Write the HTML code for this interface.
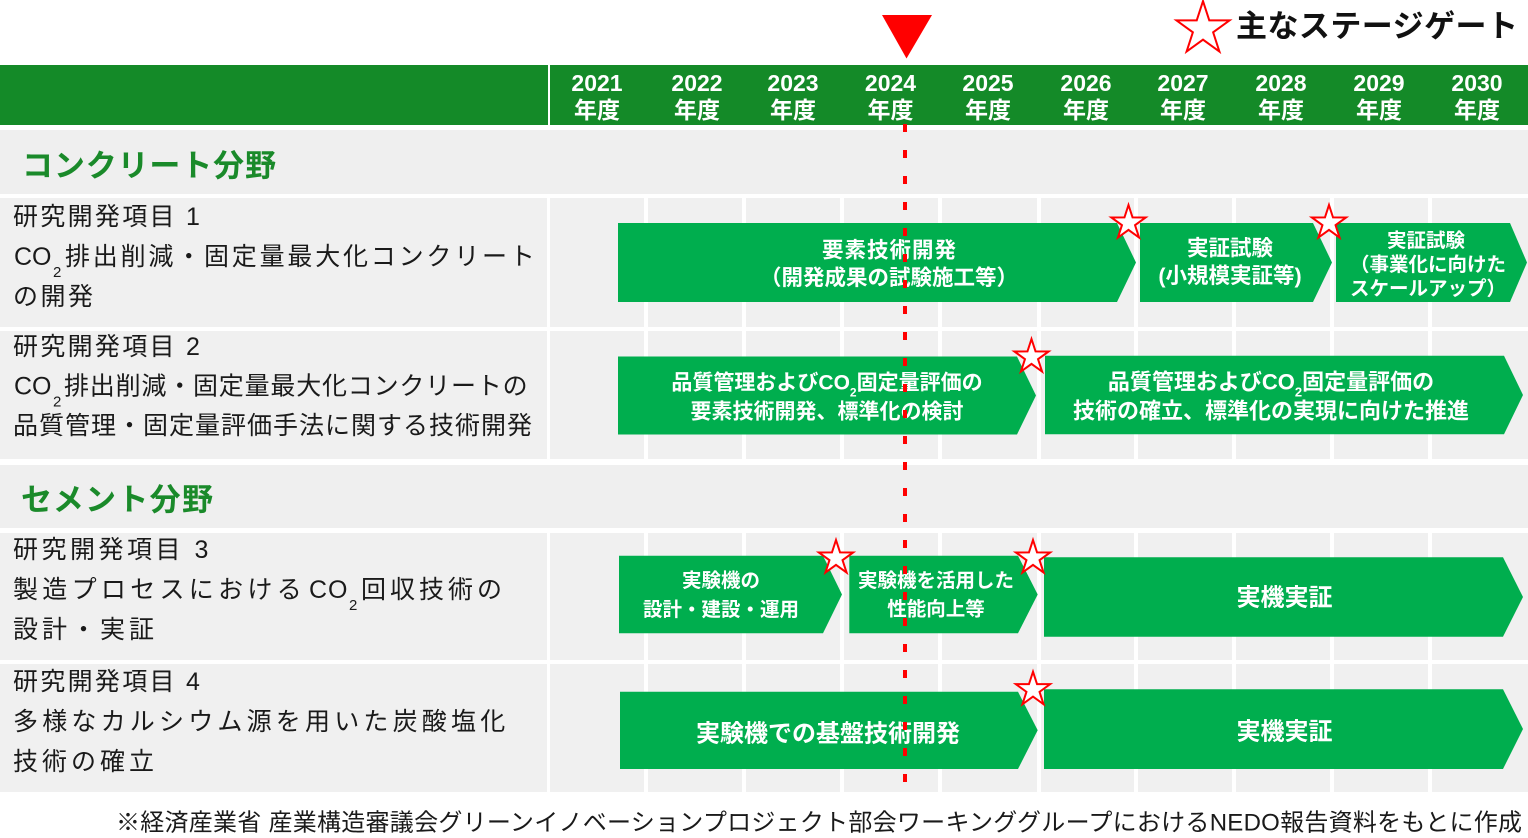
<!DOCTYPE html>
<html><head><meta charset="utf-8"><style>
html,body{margin:0;padding:0;background:#fff;}
body{width:1528px;height:838px;overflow:hidden;}
svg{display:block;}
</style></head><body>
<svg width="1528" height="838" viewBox="0 0 1528 838" xmlns="http://www.w3.org/2000/svg" font-family="'Liberation Sans','Noto Sans CJK JP',sans-serif">
<defs>
<polygon id="st" points="0,-18 4.04,-5.57 17.12,-5.56 6.54,2.13 10.58,14.56 0,6.88 -10.58,14.56 -6.54,2.13 -17.12,-5.56 -4.04,-5.57" fill="#fff" stroke="#ff0000" stroke-width="2" vector-effect="non-scaling-stroke" stroke-linejoin="miter"/>
</defs>
<rect width="1528" height="838" fill="#fff"/>
<!-- header -->
<rect x="0" y="65" width="548" height="60" fill="#148a28"/>
<rect x="550" y="65" width="978" height="60" fill="#148a28"/>
<!-- category rows -->
<rect x="0" y="130" width="1528" height="64" fill="#efefef"/>
<rect x="0" y="465" width="1528" height="63" fill="#efefef"/>
<!-- grid cells -->
<g fill="#f0f0f0">
<rect x="0" y="198" width="547" height="129"/><rect x="550" y="198" width="94" height="129"/><rect x="648" y="198" width="94" height="129"/><rect x="746" y="198" width="94" height="129"/><rect x="844" y="198" width="94" height="129"/><rect x="942" y="198" width="95" height="129"/><rect x="1041" y="198" width="93" height="129"/><rect x="1138" y="198" width="94" height="129"/><rect x="1236" y="198" width="94" height="129"/><rect x="1334" y="198" width="94" height="129"/><rect x="1432" y="198" width="96" height="129"/>
<rect x="0" y="331" width="547" height="128"/><rect x="550" y="331" width="94" height="128"/><rect x="648" y="331" width="94" height="128"/><rect x="746" y="331" width="94" height="128"/><rect x="844" y="331" width="94" height="128"/><rect x="942" y="331" width="95" height="128"/><rect x="1041" y="331" width="93" height="128"/><rect x="1138" y="331" width="94" height="128"/><rect x="1236" y="331" width="94" height="128"/><rect x="1334" y="331" width="94" height="128"/><rect x="1432" y="331" width="96" height="128"/>
<rect x="0" y="533" width="547" height="127"/><rect x="550" y="533" width="94" height="127"/><rect x="648" y="533" width="94" height="127"/><rect x="746" y="533" width="94" height="127"/><rect x="844" y="533" width="94" height="127"/><rect x="942" y="533" width="95" height="127"/><rect x="1041" y="533" width="93" height="127"/><rect x="1138" y="533" width="94" height="127"/><rect x="1236" y="533" width="94" height="127"/><rect x="1334" y="533" width="94" height="127"/><rect x="1432" y="533" width="96" height="127"/>
<rect x="0" y="664" width="547" height="128"/><rect x="550" y="664" width="94" height="128"/><rect x="648" y="664" width="94" height="128"/><rect x="746" y="664" width="94" height="128"/><rect x="844" y="664" width="94" height="128"/><rect x="942" y="664" width="95" height="128"/><rect x="1041" y="664" width="93" height="128"/><rect x="1138" y="664" width="94" height="128"/><rect x="1236" y="664" width="94" height="128"/><rect x="1334" y="664" width="94" height="128"/><rect x="1432" y="664" width="96" height="128"/>
</g>
<!-- legend -->
<polygon points="882,15 932,15 906.5,58.5" fill="#ff0000"/>
<use href="#st" transform="translate(1203,29) scale(1.55)"/>
<text x="1236" y="37" font-size="31" font-weight="bold" fill="#111" textLength="282">主なステージゲート</text>
<!-- years -->
<g font-size="23" font-weight="bold" fill="#fff" text-anchor="middle">
<text x="597" y="91">2021</text><text x="597" y="118">年度</text>
<text x="697" y="91">2022</text><text x="697" y="118">年度</text>
<text x="793" y="91">2023</text><text x="793" y="118">年度</text>
<text x="890.5" y="91">2024</text><text x="890.5" y="118">年度</text>
<text x="988" y="91">2025</text><text x="988" y="118">年度</text>
<text x="1086" y="91">2026</text><text x="1086" y="118">年度</text>
<text x="1183" y="91">2027</text><text x="1183" y="118">年度</text>
<text x="1281" y="91">2028</text><text x="1281" y="118">年度</text>
<text x="1379" y="91">2029</text><text x="1379" y="118">年度</text>
<text x="1477" y="91">2030</text><text x="1477" y="118">年度</text>
</g>
<!-- category labels -->
<text x="22" y="176.5" font-size="31" font-weight="bold" fill="#1a8a2a" textLength="254">コンクリート分野</text>
<text x="21" y="510.5" font-size="31" font-weight="bold" fill="#1a8a2a" textLength="192">セメント分野</text>
<!-- left labels -->
<g font-size="25" fill="#1a1a1a">
<text x="13" y="225" letter-spacing="2.3">研究開発項目 1</text>
<text y="265"><tspan x="14">CO</tspan><tspan x="53" font-size="15" dy="12">2</tspan><tspan x="65" dy="-12" letter-spacing="2.8">排出削減・固定量最大化コンクリート</tspan></text>
<text x="13" y="305" letter-spacing="2.5">の開発</text>
<text x="13" y="355" letter-spacing="2.3">研究開発項目 2</text>
<text y="394.5"><tspan x="14">CO</tspan><tspan x="53" font-size="15" dy="12">2</tspan><tspan x="64" dy="-12" letter-spacing="0.8">排出削減・固定量最大化コンクリートの</tspan></text>
<text x="13" y="434" letter-spacing="1">品質管理・固定量評価手法に関する技術開発</text>
<text x="13" y="558" letter-spacing="3.5">研究開発項目 3</text>
<text y="598"><tspan x="13" letter-spacing="4.3">製造プロセスにおける</tspan><tspan x="309" letter-spacing="1">CO</tspan><tspan x="349" font-size="15" dy="12">2</tspan><tspan x="361" dy="-12" letter-spacing="4">回収技術の</tspan></text>
<text x="13" y="638" letter-spacing="4">設計・実証</text>
<text x="13" y="690" letter-spacing="2.3">研究開発項目 4</text>
<text x="13" y="730" letter-spacing="4.2">多様なカルシウム源を用いた炭酸塩化</text>
<text x="13" y="770" letter-spacing="4">技術の確立</text>
</g>
<!-- bars -->
<g fill="#00ae4e">
<polygon points="618,223 1117,223 1136,262.5 1117,302 618,302"/>
<polygon points="1140,223 1313,223 1332,262.5 1313,302 1140,302"/>
<polygon points="1336,223 1510,223 1527,262.5 1510,302 1336,302"/>
<polygon points="618,356.5 1017,356.5 1036,395.5 1017,434.5 618,434.5"/>
<polygon points="1045,355.7 1504,355.7 1523,395 1504,434.3 1045,434.3"/>
<polygon points="619,555.7 823,555.7 842,594.5 823,633.3 619,633.3"/>
<polygon points="849.3,555.7 1018,555.7 1037.7,594.5 1018,633.3 849.3,633.3"/>
<polygon points="1044,557.3 1503,557.3 1523,597 1503,636.7 1044,636.7"/>
<polygon points="620,691.7 1018,691.7 1037.7,730.3 1018,769 620,769"/>
<polygon points="1044,689.3 1503,689.3 1523,729 1503,769 1044,769"/>
</g>
<!-- bar text -->
<g fill="#fff" font-weight="bold" text-anchor="middle">
<text x="889" y="257.6" font-size="21.5" textLength="134">要素技術開発</text>
<text x="889" y="285" font-size="21.5">（開発成果の試験施工等）</text>
<text x="1230" y="255.7" font-size="21.5">実証試験</text>
<text x="1230" y="283.2" font-size="21.5">(小規模実証等)</text>
<text x="1426" y="247" font-size="19.5">実証試験</text>
<text x="1428" y="271" font-size="19.5">（事業化に向けた</text>
<text x="1428" y="295" font-size="19.5">スケールアップ）</text>
<text x="827" y="389.5" font-size="21">品質管理およびCO<tspan font-size="12" dy="7">2</tspan><tspan dy="-7">固定量評価の</tspan></text>
<text x="827" y="418.5" font-size="21">要素技術開発、標準化の検討</text>
<text x="1271" y="389.5" font-size="22">品質管理およびCO<tspan font-size="13" dy="7">2</tspan><tspan dy="-7">固定量評価の</tspan></text>
<text x="1271" y="418.5" font-size="22">技術の確立、標準化の実現に向けた推進</text>
<text x="721" y="587" font-size="19.5">実験機の</text>
<text x="721" y="616" font-size="19.5">設計・建設・運用</text>
<text x="936" y="587" font-size="19.5">実験機を活用した</text>
<text x="936" y="615.5" font-size="19.5">性能向上等</text>
<text x="1284.5" y="605.6" font-size="24">実機実証</text>
<text x="828" y="741.6" font-size="24">実験機での基盤技術開発</text>
<text x="1284.5" y="739.6" font-size="24">実機実証</text>
</g>
<!-- dashed line -->
<line x1="905" y1="124" x2="905" y2="784" stroke="#ff0000" stroke-width="4" stroke-dasharray="8 18"/>
<!-- stars -->
<use href="#st" transform="translate(1128.5,223)"/>
<use href="#st" transform="translate(1329,223)"/>
<use href="#st" transform="translate(1031.5,357)"/>
<use href="#st" transform="translate(836,558)"/>
<use href="#st" transform="translate(1033,558)"/>
<use href="#st" transform="translate(1033,689.7)"/>
<!-- footer -->
<text x="116" y="830.5" font-size="24" fill="#1a1a1a" textLength="1406">※経済産業省 産業構造審議会グリーンイノベーションプロジェクト部会ワーキンググループにおけるNEDO報告資料をもとに作成</text>
</svg>
</body></html>
